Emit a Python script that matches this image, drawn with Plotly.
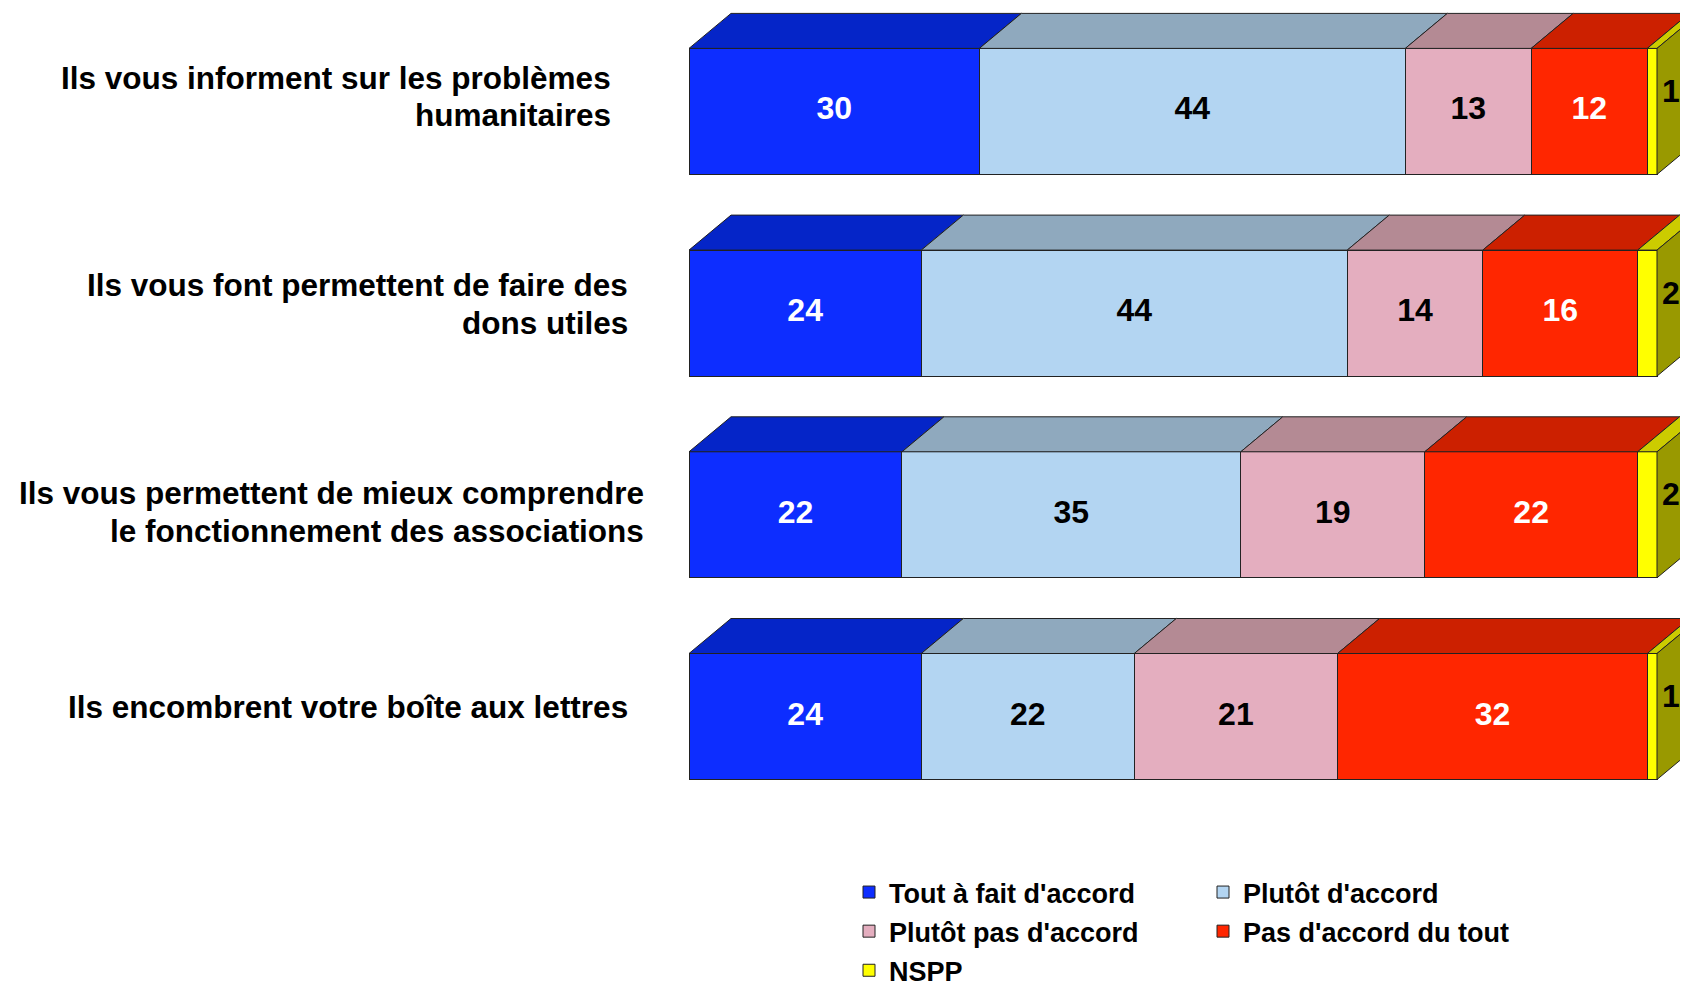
import plotly.graph_objects as go

# Data
rows = [0, 1, 2, 3]
label_lines = [
    ["Ils vous informent sur les problèmes", "humanitaires"],
    ["Ils vous font permettent de faire des", "dons utiles"],
    ["Ils vous permettent de mieux comprendre", "le fonctionnement des associations"],
    ["Ils encombrent votre boîte aux lettres"],
]
series_names = ["Tout à fait d'accord", "Plutôt d'accord", "Plutôt pas d'accord",
                "Pas d'accord du tout", "NSPP"]
tout_a_fait = [30, 24, 22, 24]
plutot = [44, 44, 35, 22]
plutot_pas = [13, 14, 19, 21]
pas_du_tout = [12, 16, 22, 32]
nspp = [1, 2, 2, 1]
series_values = [tout_a_fait, plutot, plutot_pas, pas_du_tout, nspp]

# Styling
front_colors = ["#0D2DFF", "#B3D5F2", "#E4AEBF", "#FF2600", "#FFFF00"]
top_colors = ["#0525C8", "#8FA9BE", "#B48A94", "#CC2000", "#CCCC00"]
side_color = "#999900"
text_colors = ["white", "black", "black", "white", "black"]
legend_of = ["legend", "legend2", "legend", "legend2", "legend"]
edge = "#222222"
FONT = "Liberation Sans, Arial, sans-serif"

# the page body adds an 8px margin, so the figure is drawn 8px smaller
OFF = 8
W, H = 1688 - OFF, 984 - OFF
x_left = 689.0 - OFF  # pixel of value 0
px_unit = 9.68        # pixels per percent
row0_px = 111.4 - OFF # pixel centre of first bar front
row_step = 201.7      # pixels between rows
bar_h = 126 / row_step
dx = 42 / px_unit
dy = 35 / row_step

fig = go.Figure()

# front faces
for k, vals in enumerate(series_values):
    fig.add_trace(go.Bar(
        y=rows, x=vals, orientation="h", width=bar_h, name=series_names[k],
        marker=dict(color=front_colors[k], line=dict(color=edge, width=1)),
        textposition="none", hoverinfo="skip", legend=legend_of[k],
        legendgroup=series_names[k],
    ))

# top faces
label_traces = []
starts = [0] * len(rows)
for k, vals in enumerate(series_values):
    xs, ys = [], []
    for i, v in enumerate(vals):
        s, e = starts[i], starts[i] + v
        yt = rows[i] - bar_h / 2
        xs += [s, e, e + dx, s + dx, s, None]
        ys += [yt, yt, yt - dy, yt - dy, yt, None]
    fig.add_trace(go.Scatter(
        x=xs, y=ys, mode="lines", fill="toself", fillcolor=top_colors[k],
        line=dict(color=edge, width=1), showlegend=False, hoverinfo="skip",
    ))
    # value labels
    if k < len(series_values) - 1:
        tx = [starts[i] + v / 2 for i, v in enumerate(vals)]
        ty = rows
    else:
        tx = [starts[i] + v + dx * 0.33 for i, v in enumerate(vals)]
        ty = [r - dy / 2 for r in rows]
    starts = [starts[i] + v for i, v in enumerate(vals)]
    label_traces.append(go.Scatter(
        x=tx, y=ty, mode="text", text=[str(v) for v in vals],
        textfont=dict(family=FONT, size=32, color=text_colors[k], weight="bold"),
        showlegend=False, hoverinfo="skip", cliponaxis=False,
    ))

# side face at the end of each stack
xs, ys = [], []
for i, total in enumerate(starts):
    yt = rows[i] - bar_h / 2
    xs += [total, total + dx, total + dx, total, total, None]
    ys += [yt, yt - dy, yt - dy + bar_h, yt + bar_h, yt, None]
fig.add_trace(go.Scatter(
    x=xs, y=ys, mode="lines", fill="toself", fillcolor=side_color,
    line=dict(color=edge, width=1), showlegend=False, hoverinfo="skip",
))
for t in label_traces:
    fig.add_trace(t)

# category labels (one annotation per line)
label_right_px = [613, 629.5, 646, 629.5]
label_line_px = [[77.5, 115.2], [285.3, 323.0], [493.0, 530.7], [707.3]]
for i, lines in enumerate(label_lines):
    for line, ypx in zip(lines, label_line_px[i]):
        fig.add_annotation(
            x=(label_right_px[i] - OFF - x_left) / px_unit,
            y=(ypx - OFF - row0_px) / row_step,
            text=line, showarrow=False, xanchor="right", yanchor="middle",
            font=dict(family=FONT, size=31.5, color="black", weight="bold"),
        )

legend_style = dict(
    orientation="v", xanchor="left", yanchor="top", y=1 - (868 - OFF) / H,
    bgcolor="rgba(0,0,0,0)", traceorder="grouped", tracegroupgap=1,
    font=dict(family=FONT, size=27, color="black", weight="bold"),
)

fig.update_layout(
    width=W, height=H, barmode="stack",
    margin=dict(l=0, r=0, t=0, b=0, autoexpand=False),
    paper_bgcolor="white", plot_bgcolor="white",
    xaxis=dict(range=[-x_left / px_unit, (W - x_left) / px_unit], visible=False, fixedrange=True),
    yaxis=dict(range=[(H - row0_px) / row_step, -row0_px / row_step], visible=False, fixedrange=True),
    legend=dict(x=(869 - OFF - 20) / W, **legend_style),
    legend2=dict(x=(1223 - OFF - 20) / W, **legend_style),
    showlegend=True,
)

fig.write_html("out.html")
